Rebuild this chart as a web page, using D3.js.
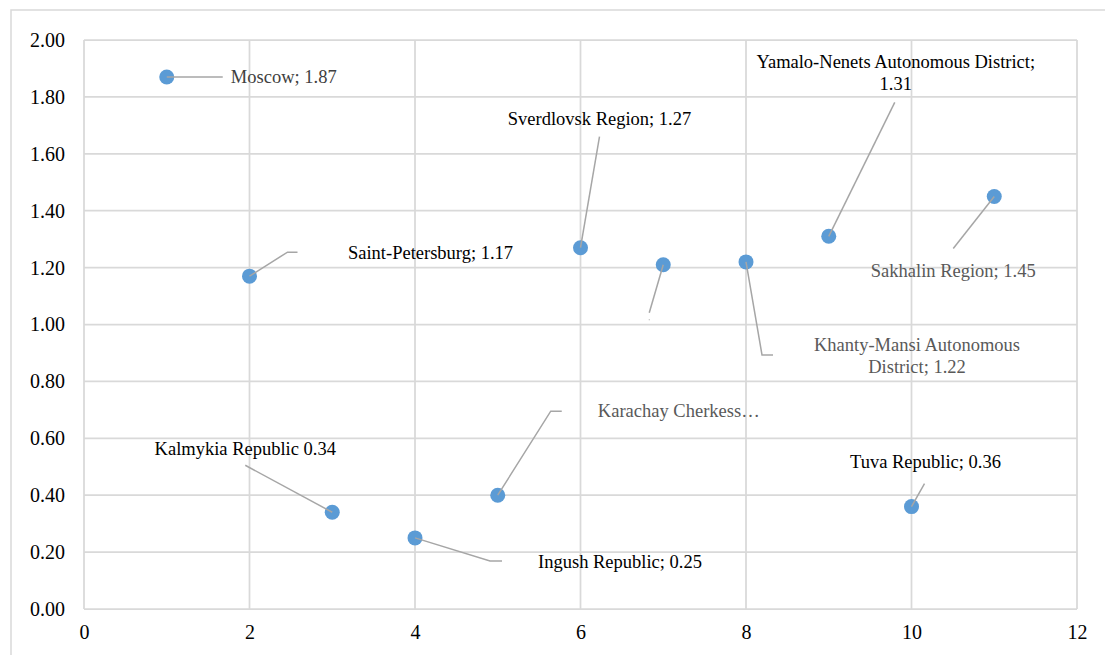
<!DOCTYPE html>
<html>
<head>
<meta charset="utf-8">
<script src="https://cdn.jsdelivr.net/npm/d3@7/dist/d3.min.js"></script>
<style>
  html, body { margin: 0; padding: 0; background: #ffffff; }
  svg { display: block; }
  svg text { font-family: "Liberation Serif", "Times New Roman", Times, "DejaVu Serif", serif; }
</style>
</head>
<body>
<svg id="chart" width="1105" height="655"></svg>
<script>
// Region index (x) and indicator value (y)
const xValues = [1, 2, 3, 4, 5, 6, 7, 8, 9, 10, 11];
const yValues = [1.87, 1.17, 0.34, 0.25, 0.40, 1.27, 1.21, 1.22, 1.31, 0.36, 1.45];
const regionNames = [
  "Moscow", "Saint-Petersburg", "Kalmykia Republic", "Ingush Republic",
  "Karachay Cherkess Republic", "Sverdlovsk Region", "",
  "Khanty-Mansi Autonomous District", "Yamalo-Nenets Autonomous District",
  "Tuva Republic", "Sakhalin Region"
];
const xTicks = [0, 2, 4, 6, 8, 10, 12];
const yTicks = [0, 0.2, 0.4, 0.6, 0.8, 1.0, 1.2, 1.4, 1.6, 1.8, 2.0];

const fmt = d3.format(".2f");
const serif = "'Liberation Serif', 'Times New Roman', Times, 'DejaVu Serif', serif";

// Data-label layout: text block centre and leader path, in pixels relative to the marker
const labelLayout = [
  { dx: 117, dy: 0,    color: "#404040", lines: d => [`${d.name}; ${fmt(d.y)}`],            leader: [[0, 0], [56, 0]] },
  { dx: 181, dy: -23,  color: "#000000", lines: d => [`${d.name}; ${fmt(d.y)}`],            leader: [[0, 0], [38, -24], [48, -24]] },
  { dx: -87, dy: -63,  color: "#000000", lines: d => [`${d.name} ${fmt(d.y)}`],             leader: [[-87, -47], [0, 0]] },
  { dx: 205, dy: 24,   color: "#000000", lines: d => [`${d.name}; ${fmt(d.y)}`],            leader: [[0, 0], [75, 23], [87, 23]] },
  { dx: 181, dy: -84,  color: "#595959", lines: d => ["Karachay Cherkess\u2026"],            leader: [[0, 0], [53, -84], [64, -84]] },
  { dx: 19,  dy: -129, color: "#000000", lines: d => [`${d.name}; ${fmt(d.y)}`],            leader: [[19, -111], [0, 0]] },
  { dx: -14, dy: 55,   color: "#595959", lines: d => [],                                     leader: [[0, 0], [-14, 48]], dot: true },
  { dx: 171, dy: 83,   color: "#595959", lines: d => ["Khanty-Mansi Autonomous", `District; ${fmt(d.y)}`], leader: [[0, 0], [16, 93], [27, 93]] },
  { dx: 67,  dy: -174, color: "#000000", lines: d => ["Yamalo-Nenets Autonomous District;", fmt(d.y)], leader: [[66, -134], [0, 0]] },
  { dx: 14,  dy: -45,  color: "#000000", lines: d => [`${d.name}; ${fmt(d.y)}`],            leader: [[13, -23], [0, 0]] },
  { dx: -41, dy: 74,   color: "#595959", lines: d => [`${d.name}; ${fmt(d.y)}`],            leader: [[-41, 52], [0, 0]] }
];

const points = xValues.map((x, i) => ({ x, y: yValues[i], name: regionNames[i], layout: labelLayout[i] }));

const svg = d3.select("#chart");
const plot = { left: 84, right: 1077, top: 40, bottom: 609 };

const xScale = d3.scaleLinear().domain([0, 12]).range([plot.left, plot.right]);
const yScale = d3.scaleLinear().domain([0, 2]).range([plot.bottom, plot.top]);

// Chart frame
svg.append("rect")
  .attr("x", 11).attr("y", 10)
  .attr("width", 1120).attr("height", 680)
  .attr("fill", "none")
  .attr("stroke", "#d9d9d9")
  .attr("stroke-width", 1.5);

// Gridlines
const grid = svg.append("g").attr("class", "grid");
grid.selectAll("line.h").data(yTicks).join("line")
  .attr("class", "h")
  .attr("x1", plot.left).attr("x2", plot.right)
  .attr("y1", d => yScale(d)).attr("y2", d => yScale(d))
  .attr("stroke", "#d9d9d9").attr("stroke-width", 1.75);
grid.selectAll("line.v").data(xTicks).join("line")
  .attr("class", "v")
  .attr("y1", plot.top).attr("y2", plot.bottom)
  .attr("x1", d => xScale(d)).attr("x2", d => xScale(d))
  .attr("stroke", "#d9d9d9").attr("stroke-width", 1.75);

// Axes (labels only; lines come from the grid)
const yAxis = d3.axisLeft(yScale).tickValues(yTicks).tickFormat(fmt).tickSize(0).tickPadding(19);
const xAxis = d3.axisBottom(xScale).tickValues(xTicks).tickFormat(d3.format("d")).tickSize(0).tickPadding(16);

const gy = svg.append("g").attr("transform", `translate(${plot.left},0)`).call(yAxis);
const gx = svg.append("g").attr("transform", `translate(0,${plot.bottom})`).call(xAxis);
[gx, gy].forEach(g => {
  g.attr("font-family", serif).attr("font-size", 20);
  g.select(".domain").remove();
  g.selectAll("text")
    .style("font-family", serif)
    .attr("font-size", 20)
    .attr("fill", "#000000");
});

// Markers
svg.append("g").selectAll("circle").data(points).join("circle")
  .attr("cx", d => xScale(d.x))
  .attr("cy", d => yScale(d.y))
  .attr("r", 7.5)
  .attr("fill", "#5b9bd5");

// Leader lines
const line = d3.line();
svg.append("g").selectAll("path").data(points).join("path")
  .attr("d", d => {
    const px = xScale(d.x), py = yScale(d.y);
    return line(d.layout.leader.map(([a, b]) => [px + a, py + b]));
  })
  .attr("fill", "none")
  .attr("stroke", "#a6a6a6")
  .attr("stroke-width", 1.5);

// Empty label marker
svg.append("g").selectAll("rect").data(points.filter(d => d.layout.dot)).join("rect")
  .attr("x", d => xScale(d.x) + d.layout.dx - 0.5)
  .attr("y", d => yScale(d.y) + d.layout.dy - 0.5)
  .attr("width", 1).attr("height", 1)
  .attr("fill", "#a6a6a6");

// Data labels
const labels = svg.append("g").selectAll("text").data(points).join("text")
  .attr("text-anchor", "middle")
  .attr("font-size", 18.5)
  .style("font-family", serif)
  .attr("fill", d => d.layout.color)
  .attr("transform", d => `translate(${xScale(d.x) + d.layout.dx},${yScale(d.y) + d.layout.dy})`);

labels.each(function (d) {
  const ls = d.layout.lines(d);
  d3.select(this).selectAll("tspan").data(ls).join("tspan")
    .attr("x", 0)
    .attr("y", (t, i) => i * 22)
    .attr("dy", "0.33em")
    .text(t => t);
});
</script>
</body>
</html>
